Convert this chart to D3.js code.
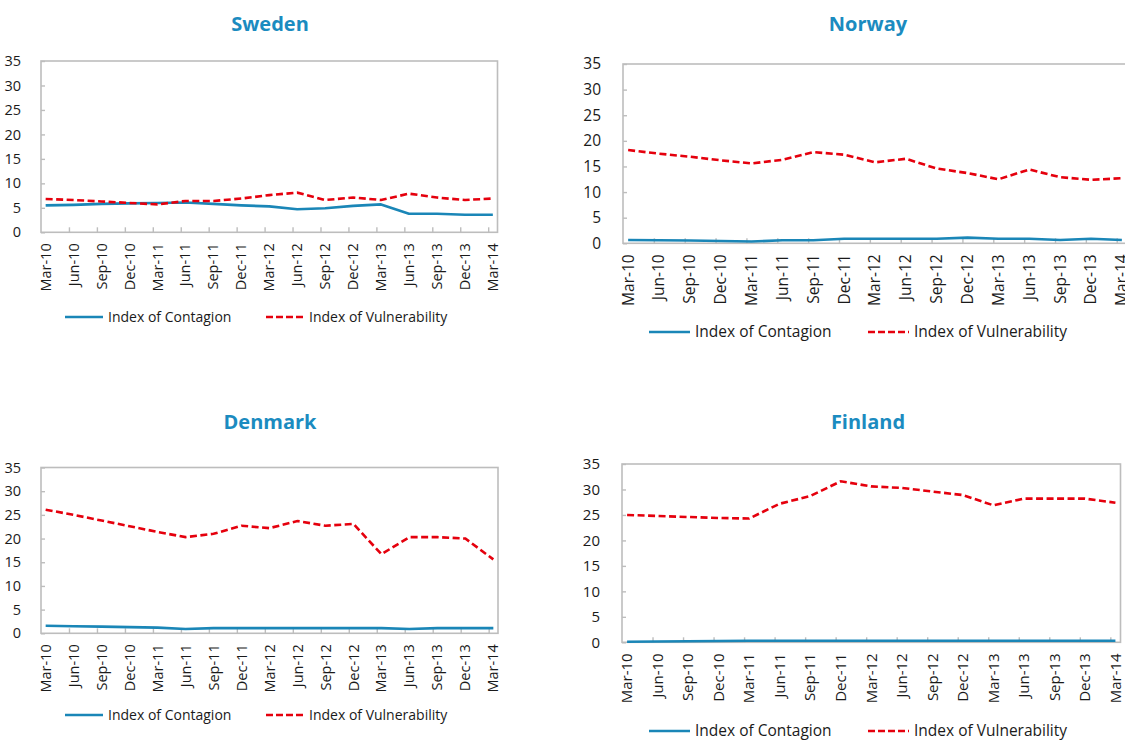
<!DOCTYPE html>
<html>
<head>
<meta charset="utf-8">
<script src="https://cdn.jsdelivr.net/npm/d3@7"></script>
<style>
  body { margin: 0; background: #fff; }
  svg { display: block; font-family: "Open Sans", "Noto Sans", sans-serif; }
</style>
</head>
<body>
<svg id="chart" width="1125" height="740"></svg>
<script>
// Quarterly observation dates (one every three months)
const quarterLabels = ["Mar-10","Jun-10","Sep-10","Dec-10","Mar-11","Jun-11","Sep-11","Dec-11",
  "Mar-12","Jun-12","Sep-12","Dec-12","Mar-13","Jun-13","Sep-13","Dec-13","Mar-14"];
const seriesNames = ["Index of Contagion", "Index of Vulnerability"];
const yTicks = [0, 5, 10, 15, 20, 25, 30, 35];

const swedenContagion     = [5.5, 5.6, 5.8, 5.9, 6.0, 6.1, 5.8, 5.5, 5.3, 4.7, 4.9, 5.4, 5.7, 3.8, 3.8, 3.6, 3.6];
const swedenVulnerability = [6.8, 6.6, 6.3, 6.0, 5.7, 6.4, 6.4, 6.9, 7.6, 8.1, 6.6, 7.1, 6.6, 7.9, 7.1, 6.6, 6.9];

const norwayContagion     = [0.65, 0.6, 0.55, 0.45, 0.35, 0.6, 0.6, 0.9, 0.9, 0.9, 0.9, 1.1, 0.9, 0.9, 0.65, 0.9, 0.65];
const norwayVulnerability = [18.2, 17.5, 16.9, 16.2, 15.6, 16.3, 17.8, 17.3, 15.8, 16.5, 14.6, 13.7, 12.5, 14.4, 12.9, 12.4, 12.7];

const denmarkContagion     = [1.6, 1.5, 1.4, 1.3, 1.2, 0.9, 1.1, 1.1, 1.1, 1.1, 1.1, 1.1, 1.1, 0.9, 1.1, 1.1, 1.1];
const denmarkVulnerability = [26.1, 25.0, 23.8, 22.6, 21.4, 20.3, 21.0, 22.7, 22.2, 23.7, 22.7, 23.1, 16.7, 20.3, 20.3, 20.0, 15.6];

const finlandContagion     = [0.1, 0.15, 0.2, 0.25, 0.3, 0.3, 0.3, 0.3, 0.3, 0.3, 0.3, 0.3, 0.3, 0.3, 0.3, 0.3, 0.3];
const finlandVulnerability = [25.0, 24.8, 24.6, 24.4, 24.3, 27.2, 28.7, 31.6, 30.6, 30.3, 29.6, 28.9, 26.9, 28.2, 28.2, 28.2, 27.4];

// Panel layout
const panels = [
  { title: "Sweden",  contagion: swedenContagion,  vulnerability: swedenVulnerability,
    box: { l: 41, r: 497.5, t: 61, b: 232.3 }, fs: 14.5, legendFs: 14, titleX: 270, titleY: 31,
    labelGap: 16, legendY: 317, legendA: 65, legendB: 266, legendLen: 38 },
  { title: "Norway",  contagion: norwayContagion,  vulnerability: norwayVulnerability,
    box: { l: 623, r: 1127, t: 64, b: 243.3 }, fs: 15.5, legendFs: 15.5, titleX: 868, titleY: 31,
    labelGap: 18, legendY: 332, legendA: 649, legendB: 868, legendLen: 41 },
  { title: "Denmark", contagion: denmarkContagion, vulnerability: denmarkVulnerability,
    box: { l: 41, r: 498, t: 467.5, b: 633.3 }, fs: 14.5, legendFs: 14, titleX: 270, titleY: 429,
    labelGap: 16, legendY: 715, legendA: 65, legendB: 266, legendLen: 38 },
  { title: "Finland", contagion: finlandContagion, vulnerability: finlandVulnerability,
    box: { l: 622, r: 1120.5, t: 464, b: 642.3 }, fs: 15, legendFs: 15.5, titleX: 868, titleY: 429,
    labelGap: 18, legendY: 731, legendA: 649, legendB: 868, legendLen: 41 }
];

const COLORS = { title: "#1B8BC0", contagion: "#1A86B7", vulnerability: "#E5000D",
                 axis: "#BDBDBD", text: "#1A1A1A" };

const svg = d3.select("#chart");

panels.forEach(p => {
  const g = svg.append("g");
  const { l, r, t, b } = p.box;

  // Month-based axis: each quarter sits in the middle of its month slot
  const x = d3.scaleLinear().domain([-0.5, 48.5]).range([l, r]);
  const y = d3.scaleLinear().domain([0, 35]).range([b, t]);
  const monthOf = i => i * 3;

  // Title
  g.append("text")
    .attr("x", p.titleX).attr("y", p.titleY)
    .attr("text-anchor", "middle")
    .attr("font-size", 20).attr("font-weight", 700)
    .attr("fill", COLORS.title)
    .text(p.title);

  // Plot frame
  g.append("rect")
    .attr("x", l).attr("y", t).attr("width", r - l).attr("height", b - t)
    .attr("fill", "none").attr("stroke", COLORS.axis).attr("stroke-width", 1.6);

  // Y axis: inward ticks, labels on the left
  const yAxis = d3.axisLeft(y).tickValues(yTicks).tickSize(-4).tickPadding(p.labelGap + 4);
  const ya = g.append("g").attr("transform", `translate(${l},0)`).call(yAxis);
  ya.select(".domain").remove();
  ya.selectAll(".tick line").attr("stroke", COLORS.axis).attr("stroke-width", 1.4);
  ya.selectAll(".tick text").attr("font-size", p.fs).attr("fill", COLORS.text)
    .attr("font-family", "Open Sans, Noto Sans, sans-serif");

  // X axis: inward tick marks on slot boundaries every three months
  const boundaries = d3.range(1, 17).map(k => 3 * k - 0.5);
  const xAxisTicks = d3.axisBottom(x).tickValues(boundaries).tickSize(-5).tickFormat("");
  const xa = g.append("g").attr("transform", `translate(0,${b})`).call(xAxisTicks);
  xa.select(".domain").remove();
  xa.selectAll(".tick line").attr("stroke", COLORS.axis).attr("stroke-width", 1.4);

  // X labels, rotated, centred on each quarter's slot
  g.append("g").selectAll("text")
    .data(quarterLabels)
    .join("text")
    .attr("transform", (d, i) => `translate(${x(monthOf(i))},${b + 11}) rotate(-90)`)
    .attr("text-anchor", "end")
    .attr("dy", "0.35em")
    .attr("font-size", p.fs)
    .attr("fill", COLORS.text)
    .text(d => d);

  // Series lines
  const line = d3.line().x((d, i) => x(monthOf(i))).y(d => y(d));
  g.append("path").datum(p.contagion)
    .attr("d", line).attr("fill", "none")
    .attr("stroke", COLORS.contagion).attr("stroke-width", 2.6)
    .attr("stroke-linejoin", "round");
  g.append("path").datum(p.vulnerability)
    .attr("d", line).attr("fill", "none")
    .attr("stroke", COLORS.vulnerability).attr("stroke-width", 2.6)
    .attr("stroke-dasharray", "7,3.5");

  // Legend
  const legend = [
    { name: seriesNames[0], x0: p.legendA, color: COLORS.contagion, dash: null },
    { name: seriesNames[1], x0: p.legendB, color: COLORS.vulnerability, dash: "7,3" }
  ];
  legend.forEach(item => {
    g.append("line")
      .attr("x1", item.x0).attr("x2", item.x0 + p.legendLen)
      .attr("y1", p.legendY).attr("y2", p.legendY)
      .attr("stroke", item.color).attr("stroke-width", 2.6)
      .attr("stroke-dasharray", item.dash);
    g.append("text")
      .attr("x", item.x0 + p.legendLen + 5).attr("y", p.legendY)
      .attr("dy", "0.35em")
      .attr("font-size", p.legendFs).attr("fill", COLORS.text)
      .text(item.name);
  });
});
</script>
</body>
</html>
